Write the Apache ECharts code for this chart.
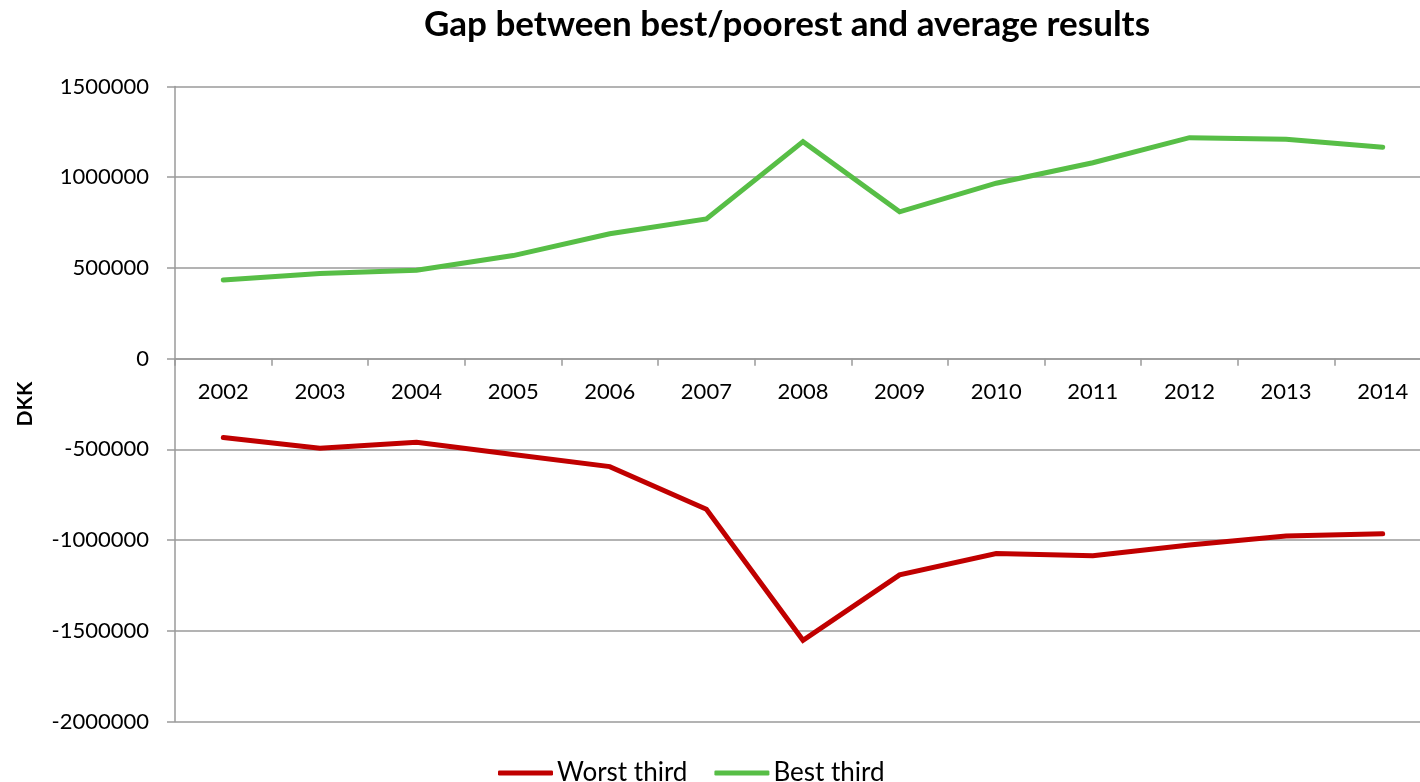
<!DOCTYPE html>
<html>
<head>
<meta charset="utf-8">
<script src="https://cdn.jsdelivr.net/npm/echarts@6/dist/echarts.min.js"></script>
<style>
  html, body { margin: 0; padding: 0; background: #fff; }
  #chart { width: 1420px; height: 782px; }
</style>
</head>
<body>
<div id="chart"></div>
<script>
// Years on the category axis
const years = ['2002', '2003', '2004', '2005', '2006', '2007', '2008', '2009', '2010', '2011', '2012', '2013', '2014'];

// Gap to the average result, DKK
const worstThird = [-435000, -494000, -461000, -528000, -595000, -830000, -1552000, -1192000, -1074000, -1086000, -1027000, -977000, -965000];
const bestThird = [433000, 469000, 487000, 568000, 688000, 770000, 1196000, 809000, 967000, 1080000, 1218000, 1209000, 1165000];

// Value axis range
const yMin = -2000000;
const yMax = 1500000;
const yStep = 500000;

const FONT = 'Lato';
const GRID_COLOR = '#9a9a9a';

// Plot area geometry (the last category runs past the right edge of the canvas)
const GRID_LEFT = 175;
const GRID_WIDTH = 1256;
const GRID_TOP = 86.5;
const GRID_BOTTOM_GAP = 60.5;
const GRID_HEIGHT = 782 - GRID_TOP - GRID_BOTTOM_GAP;
// distance from the bottom edge of the plot up to the zero line, so the year
// labels sit just under the zero line
const zeroOffset = GRID_HEIGHT * (0 - yMin) / (yMax - yMin);

const chart = echarts.init(document.getElementById('chart'), null, { renderer: 'canvas' });

chart.setOption({
  animation: false,
  backgroundColor: '#ffffff',
  title: {
    text: 'Gap between best/poorest and average results',
    left: 782,
    top: 2,
    textAlign: 'center',
    textStyle: { fontFamily: FONT, fontWeight: 'bold', fontSize: 35, color: '#000' }
  },
  legend: {
    left: 493,
    top: 755,
    icon: 'roundRect',
    itemWidth: 55,
    itemHeight: 5,
    itemGap: 27,
    textStyle: { fontFamily: FONT, fontSize: 26, color: '#000', padding: [0, 0, 0, -1] },
    data: ['Worst third', 'Best third']
  },
  grid: {
    left: GRID_LEFT,
    top: GRID_TOP,
    width: GRID_WIDTH,
    bottom: GRID_BOTTOM_GAP,
    containLabel: false,
    outerBoundsMode: 'none'
  },
  xAxis: {
    type: 'category',
    data: years,
    boundaryGap: true,
    axisLine: { onZero: true, lineStyle: { color: GRID_COLOR, width: 1.5 } },
    axisTick: { show: true, length: 7, interval: 0, lineStyle: { color: GRID_COLOR, width: 1.5 } },
    axisLabel: {
      fontFamily: FONT, fontSize: 22, color: '#000', interval: 0,
      margin: 22 - zeroOffset
    },
    splitLine: { show: false }
  },
  yAxis: {
    type: 'value',
    min: yMin,
    max: yMax,
    interval: yStep,
    name: 'DKK',
    nameLocation: 'middle',
    nameRotate: 90,
    nameGap: 139,
    nameTextStyle: { fontFamily: FONT, fontWeight: 'bold', fontSize: 21, color: '#000' },
    axisLine: { show: true, lineStyle: { color: GRID_COLOR, width: 1.5 } },
    axisTick: { show: true, length: 8, lineStyle: { color: GRID_COLOR, width: 1.5 } },
    axisLabel: {
      fontFamily: FONT, fontSize: 22, color: '#000', margin: 26,
      formatter: v => String(v)
    },
    splitLine: { show: true, lineStyle: { color: GRID_COLOR, width: 1.5 } }
  },
  series: [
    {
      name: 'Worst third',
      type: 'line',
      data: worstThird,
      symbol: 'none',
      color: '#C00000',
      lineStyle: { color: '#C00000', width: 5, cap: 'round', join: 'miter' }
    },
    {
      name: 'Best third',
      type: 'line',
      data: bestThird,
      symbol: 'none',
      color: '#57BE46',
      lineStyle: { color: '#57BE46', width: 5, cap: 'round', join: 'miter' }
    }
  ]
});
</script>
</body>
</html>
